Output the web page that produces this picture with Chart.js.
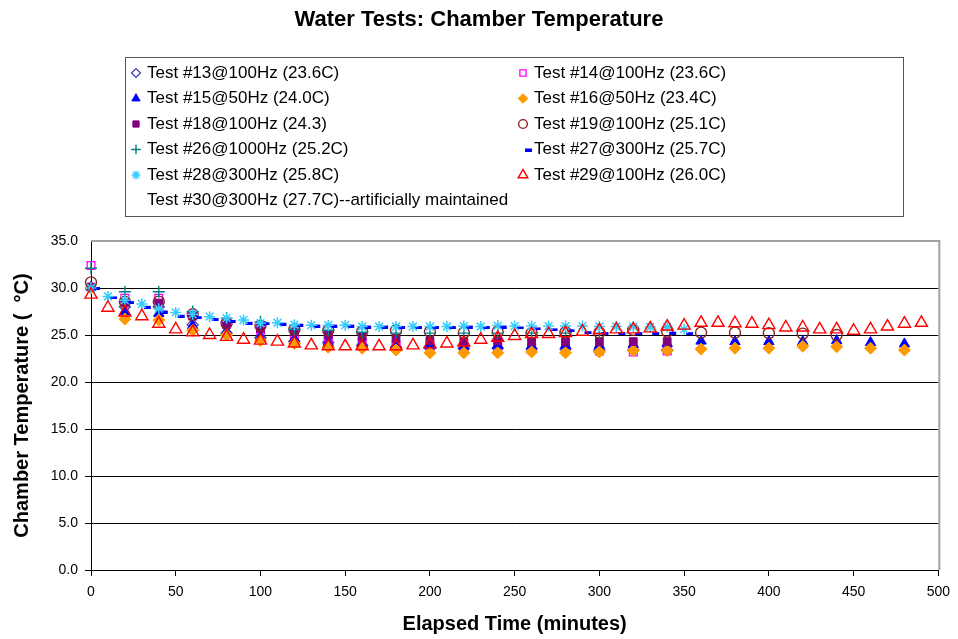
<!DOCTYPE html>
<html>
<head>
<meta charset="utf-8">
<title>Water Tests: Chamber Temperature</title>
<script src="https://cdn.jsdelivr.net/npm/chart.js@4.4.0/dist/chart.umd.min.js"></script>
<style>
    html, body { margin: 0; padding: 0; background: #fff; }
</style>
</head>
<body>
<canvas id="tempChart" width="958" height="639"></canvas>
<script>
const chartTitle = 'Water Tests: Chamber Temperature';
const xTitle = 'Elapsed Time (minutes)';
const yTitle = 'Chamber Temperature (  \u00B0C)';

// sample times (minutes)
const every20 = [0, 20, 40, 60, 80, 100, 120, 140, 160, 180, 200, 220, 240, 260, 280, 300, 320, 340, 360, 380, 400, 420, 440, 460, 480];
const every10 = [0, 10, 20, 30, 40, 50, 60, 70, 80, 90, 100, 110, 120, 130, 140, 150, 160, 170, 180, 190, 200, 210, 220, 230, 240, 250, 260, 270, 280, 290, 300, 310, 320, 330, 340, 350, 360, 370, 380, 390, 400, 410, 420, 430, 440, 450, 460, 470, 480, 490];

// chamber temperature readings (deg C)
const test13 = [30.0, 28.0, 28.0, 26.1, 25.2, 24.7, 24.3, 24.2, 23.9, 23.7, 23.6, 23.6, 23.6, 23.5, 23.5, 23.4, 23.4, 23.4];
const test14 = [32.4, 28.9, 28.9, 27.1, 26.3, 25.5, 25.0, 24.5, 24.2, 23.9, 23.8, 23.6, 23.7, 23.6, 23.5, 23.3, 23.2, 23.3];
const test15 = [30.1, 27.5, 27.3, 26.0, 25.4, 24.8, 24.6, 24.2, 24.1, 23.95, 23.9, 23.8, 23.9, 23.85, 23.9, 23.9, 24.0, 24.1, 24.35, 24.3, 24.3, 24.3, 24.4, 24.2, 24.05];
const test16 = [30.0, 26.7, 26.6, 25.5, 25.0, 24.4, 24.1, 23.7, 23.6, 23.4, 23.1, 23.1, 23.1, 23.2, 23.1, 23.2, 23.35, 23.35, 23.5, 23.6, 23.6, 23.8, 23.75, 23.6, 23.4];
const test18 = [30.1, 28.4, 28.4, 27.0, 26.1, 25.7, 25.35, 25.0, 24.8, 24.65, 24.4, 24.3, 24.4, 24.3, 24.3, 24.3, 24.3, 24.3];
const test19 = [30.6, 28.55, 28.55, 27.2, 26.25, 26.0, 25.6, 25.5, 25.35, 25.5, 25.35, 25.25, 25.35, 25.2, 25.3, 25.25, 25.55, 25.35, 25.25, 25.25, 25.2, 25.15, 25.0];
const test26 = [32.1, 29.6, 29.6, 27.5, 26.8, 26.4, 25.6, 25.5, 25.3, 25.2, 25.2, 25.2, 25.2, 25.2, 25.2, 25.2];
const test27 = [30.0, 29.0, 28.5, 28.0, 27.5, 27.05, 26.9, 26.7, 26.5, 26.3, 26.25, 26.2, 26.1, 26.0, 26.0, 26.0, 25.9, 25.9, 25.85, 25.85, 25.85, 25.85, 25.9, 25.85, 25.9, 25.8, 25.7, 25.6, 25.5, 25.3, 25.2, 25.2, 25.2, 25.2, 25.25, 25.2];
const test28 = [30.0, 29.1, 28.7, 28.3, 27.8, 27.4, 27.2, 26.95, 26.8, 26.6, 26.25, 26.3, 26.1, 26.05, 26.05, 26.05, 25.9, 25.9, 25.9, 25.9, 25.9, 25.9, 25.95, 25.9, 26.0, 25.95, 25.95, 25.95, 25.95, 25.95, 25.9, 25.9, 25.9, 25.85, 25.85, 25.6];
const test29 = [29.3, 27.9, 27.4, 27.0, 26.2, 25.6, 25.3, 25.0, 24.8, 24.5, 24.4, 24.3, 24.1, 23.9, 23.8, 23.8, 23.8, 23.8, 23.8, 23.9, 24.0, 24.1, 24.2, 24.5, 24.7, 24.9, 25.1, 25.1, 25.2, 25.35, 25.5, 25.6, 25.6, 25.7, 25.9, 26.0, 26.3, 26.3, 26.25, 26.2, 26.05, 25.8, 25.8, 25.6, 25.6, 25.45, 25.6, 25.9, 26.2, 26.3];
const test30 = [];

const yTicks = [0, 5, 10, 15, 20, 25, 30, 35];

const pts = (times, temps) => temps.map((v, i) => ({ x: times[i], y: v }));

// Excel's dash marker sits a little right of the point
const dashMark = document.createElement('canvas');
dashMark.width = 20;
dashMark.height = 4;
const dctx = dashMark.getContext('2d');
dctx.fillStyle = '#0000ff';
dctx.fillRect(12, 1, 7, 3);

const none = 'rgba(0,0,0,0)';

function series(label, data, style, fill, stroke, radius, width) {
    return {
        label: label,
        data: data,
        pointStyle: style,
        pointRadius: radius,
        pointBackgroundColor: fill,
        pointBorderColor: stroke,
        pointBorderWidth: width,
        backgroundColor: fill,
        borderColor: stroke,
        showLine: false,
        clip: false
    };
}

const datasets = [
    series('Test #13@100Hz (23.6C)', pts(every20, test13), 'rectRot', none, '#4040a8', 5.5, 1.3),
    series('Test #14@100Hz (23.6C)', pts(every20, test14), 'rect', none, '#ff00ff', 5.5, 1.3),
    series('Test #15@50Hz (24.0C)', pts(every20, test15), 'triangle', '#0000ff', '#0000ff', 6, 1),
    series('Test #16@50Hz (23.4C)', pts(every20, test16), 'rectRot', '#ff9900', '#ff9900', 6, 1),
    series('Test #18@100Hz (24.3)', pts(every20, test18), 'rect', '#800080', '#800080', 5.5, 1),
    series('Test #19@100Hz (25.1C)', pts(every20, test19), 'circle', none, '#8b2020', 5.5, 1.4),
    series('Test #26@1000Hz (25.2C)', pts(every20, test26), 'cross', none, '#008080', 6, 1.4),
    series('Test #27@300Hz (25.7C)', pts(every10, test27), dashMark, '#0000ff', '#0000ff', 5, 1),
    series('Test #28@300Hz (25.8C)', pts(every10, test28), 'star', none, '#33ccff', 5.5, 1.5),
    series('Test #29@100Hz (26.0C)', pts(every10, test29), 'triangle', none, '#ff0000', 7, 1.4),
    series('Test #30@300Hz (27.7C)--artificially maintained', pts(every10, test30), false, none, none, 0, 0)
];
// later series sit on top, like the spreadsheet
datasets.forEach((ds, i) => { ds.order = datasets.length - i; });

const frame = {
    id: 'frame',
    afterDraw(chart) {
        const ctx = chart.ctx;
        const area = chart.chartArea;
        ctx.save();
        ctx.strokeStyle = '#a0a0a0';
        ctx.lineWidth = 2;
        ctx.beginPath();
        ctx.moveTo(area.left, area.top);
        ctx.lineTo(area.right + 1, area.top);
        ctx.lineTo(area.right + 1, area.bottom);
        ctx.stroke();

        ctx.fillStyle = '#000';
        ctx.textAlign = 'center';
        ctx.textBaseline = 'middle';
        ctx.font = 'bold 22px "Liberation Sans", Arial, sans-serif';
        ctx.fillText(chartTitle, 479, 20);

        ctx.strokeStyle = '#555';
        ctx.lineWidth = 1;
        ctx.strokeRect(125.5, 57.5, 778, 159);

        ctx.font = '17px "Liberation Sans", Arial, sans-serif';
        ctx.textAlign = 'left';
        chart.data.datasets.forEach((ds, i) => {
            const mx = i % 2 ? 523 : 136;
            const y = 73 + Math.floor(i / 2) * 25.5;
            if (ds.pointStyle) {
                ctx.fillStyle = ds.pointBackgroundColor;
                ctx.strokeStyle = ds.pointBorderColor;
                ctx.lineWidth = ds.pointBorderWidth;
                Chart.helpers.drawPoint(ctx, {
                    pointStyle: ds.pointStyle,
                    radius: ds.pointRadius * 0.8,
                    borderWidth: ds.pointBorderWidth,
                    rotation: 0
                }, mx, y);
            }
            ctx.fillStyle = '#000';
            ctx.fillText(ds.label, mx + 11, y);
        });
        ctx.restore();
    }
};

const tickFont = { family: '"Liberation Sans Narrow", "Liberation Sans", Arial, sans-serif', size: 14 };
const titleFont = { family: '"Liberation Sans", Arial, sans-serif', size: 20, weight: 'bold' };

new Chart(document.getElementById('tempChart'), {
    type: 'scatter',
    data: { datasets: datasets },
    options: {
        responsive: false,
        animation: false,
        layout: { padding: { top: 241, right: 18, bottom: 0, left: 0 } },
        plugins: {
            legend: { display: false },
            title: { display: false },
            tooltip: { enabled: false }
        },
        scales: {
            x: {
                type: 'linear',
                min: 0,
                max: 500,
                afterFit: scale => { scale.height = 69; },
                ticks: { stepSize: 50, color: '#000', font: tickFont, padding: 8 },
                grid: { drawOnChartArea: false, drawTicks: true, tickLength: 6, color: '#000' },
                border: { color: '#000', width: 1 },
                title: { display: true, text: xTitle, color: '#000', font: titleFont, padding: { top: 0, bottom: 3 } }
            },
            y: {
                min: 0,
                max: 35,
                afterFit: scale => { scale.width = 91; },
                afterBuildTicks: scale => { scale.ticks = yTicks.map(v => ({ value: v })); },
                ticks: { color: '#000', font: tickFont, padding: 7, callback: v => v.toFixed(1) },
                grid: {
                    color: ctx => ctx.tick && ctx.tick.value === 35 ? 'rgba(0,0,0,0)' : '#000',
                    tickLength: 6,
                    lineWidth: 1
                },
                border: { color: '#000', width: 1 },
                title: { display: true, text: yTitle, color: '#000', font: titleFont, padding: { top: 10, bottom: 0 } }
            }
        }
    },
    plugins: [frame]
});
</script>
</body>
</html>
